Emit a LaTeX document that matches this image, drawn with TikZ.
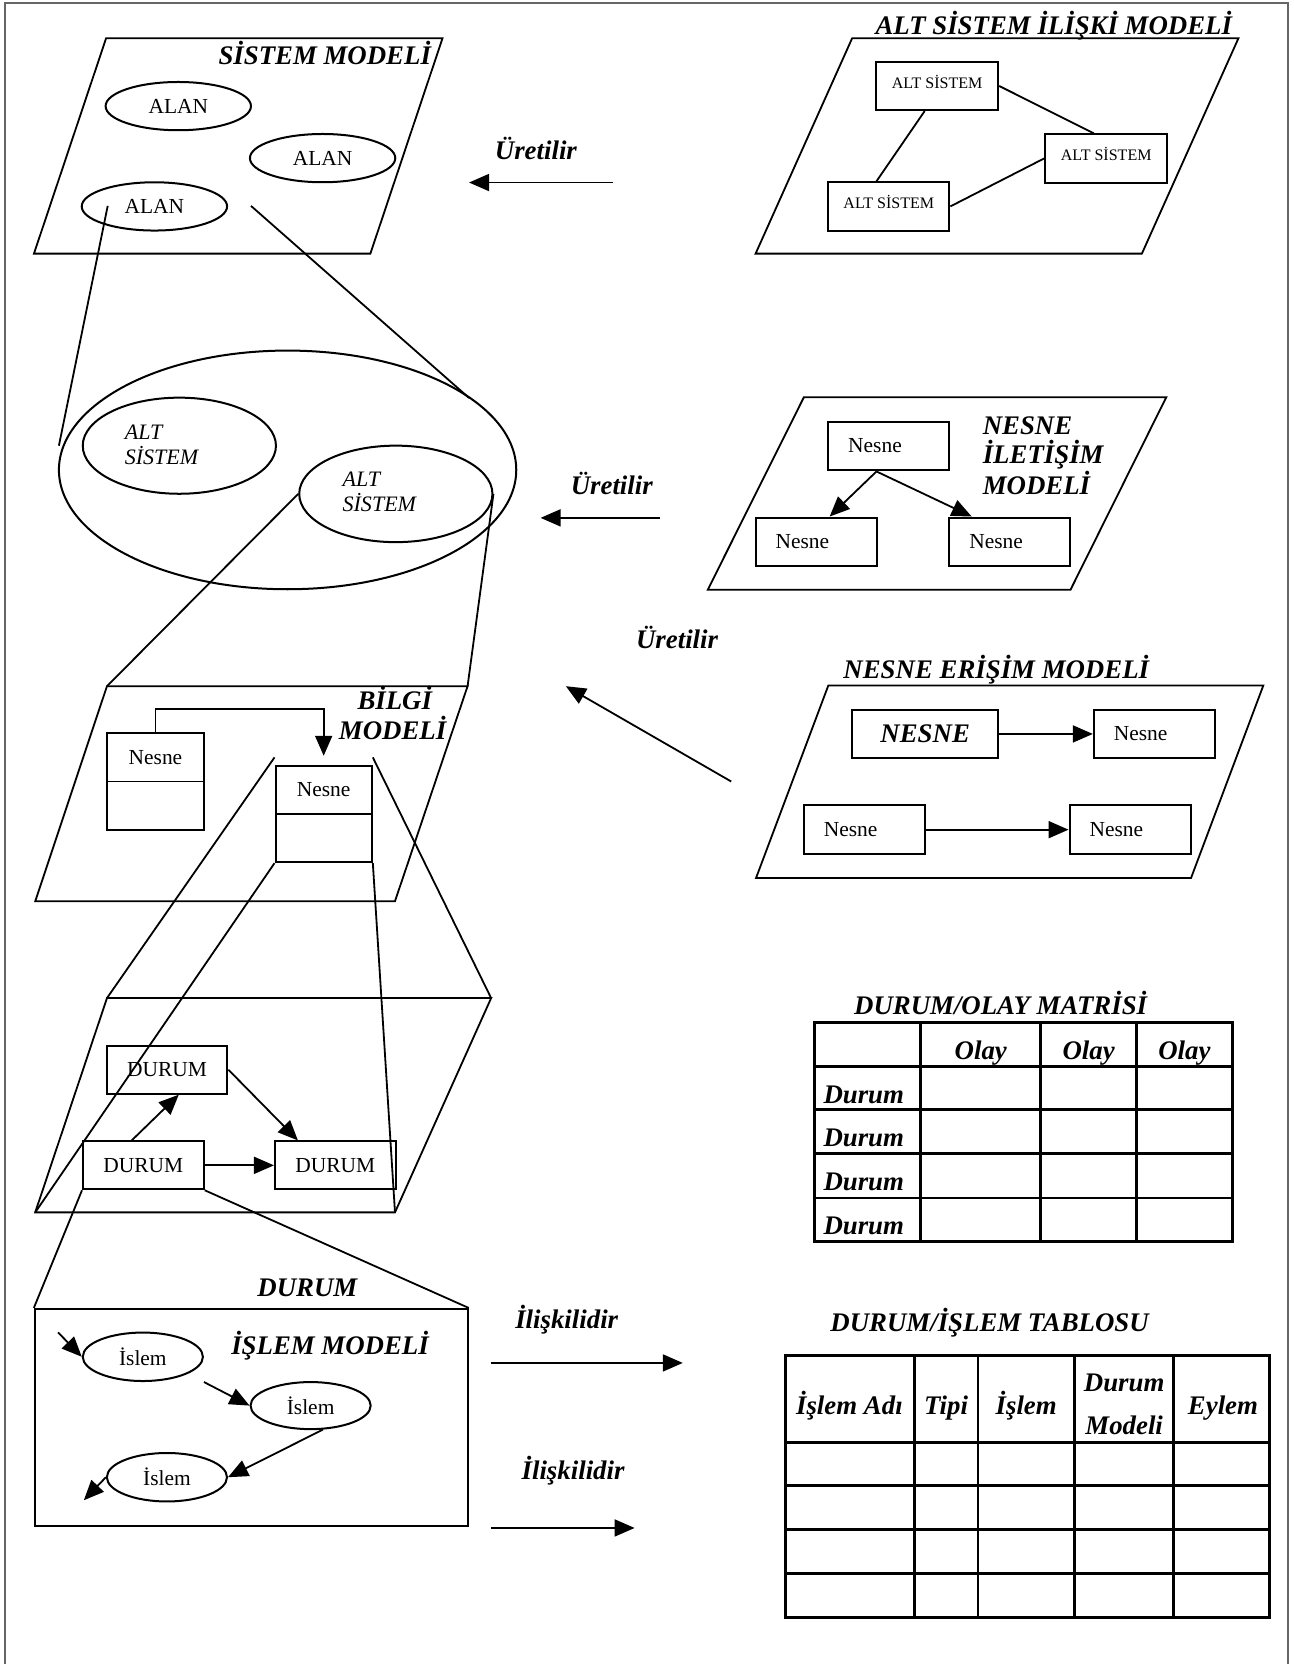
\documentclass[tikz,border=0pt]{standalone}
\usepackage{fontspec}
\setmainfont{Liberation Serif}
\usetikzlibrary{arrows.meta,shapes.geometric,calc}
\begin{document}
\begin{tikzpicture}[x=0.53pt,y=-0.53pt,
  ln/.style={line width=0.9pt},
  arr/.style={line width=0.9pt,-{Triangle[length=10pt,width=8.5pt]}},
  ttl/.style={font=\fontsize{13.4}{16}\selectfont\bfseries\itshape, inner sep=0pt},
  reg/.style={font=\fontsize{10.7}{13}\selectfont, inner sep=0pt},
  sml/.style={font=\fontsize{8}{10}\selectfont, text depth=4.2pt},
  bx/.style={draw, line width=1pt, rectangle, inner sep=0pt, reg},
  ov/.style={draw, line width=1pt, ellipse, inner sep=0pt, reg},
  nbx/.style={bx, text width=40.5pt, inner xsep=10pt, align=left, minimum height=24.4pt},
  itx/.style={font=\fontsize{11}{13}\selectfont\itshape, inner sep=0pt},
  tbl/.style={line width=1.4pt}
]
\useasboundingbox (0,0) rectangle (1219,1568);
\draw[black!60, line width=1pt] (4.7,1568) -- (4.7,2.8) -- (1213.4,2.8) -- (1213.4,1568);

% ---------- SISTEM MODELI
\draw[ln] (100,36) -- (417,36) -- (349,239) -- (32,239) -- cycle;
\node[ttl, anchor=base east] (tsm) at (406.5,61.2) {SİSTEM MODELİ};
\node[ov, minimum width=72.6pt, minimum height=24.1pt] (al1) at (168,100) {ALAN};
\node[ov, minimum width=72.6pt, minimum height=24.1pt] (al2) at (304,149) {ALAN};
\node[ov, minimum width=72.6pt, minimum height=24.1pt] (al3) at (145.5,194.5) {ALAN};

% ---------- Uretilir 1
\node[ttl, anchor=base] (u1) at (505,150) {Üretilir};
\coordinate (u1s) at (577.5,172);
\coordinate (u1e) at (442,172);
\draw[arr] (u1s) -- (u1e);

% ---------- ALT SISTEM ILISKI MODELI
\draw[ln] (803,36) -- (1167,36) -- (1076,239) -- (712,239) -- cycle;
\node[ttl, anchor=base] (tas) at (993,32.5) {ALT SİSTEM İLİŞKİ MODELİ};
\node[bx, sml, minimum width=61pt, minimum height=24.1pt] (as1) at (883,81) {ALT SİSTEM};
\node[bx, sml, minimum width=61pt, minimum height=24.1pt] (as2) at (1042.4,149.3) {ALT SİSTEM};
\node[bx, sml, minimum width=60.5pt, minimum height=24.1pt] (as3) at (837.5,194.5) {ALT SİSTEM};
\draw[ln] ($(as1.south west)!0.4!(as1.south east)$) -- ($(as3.north west)!0.4!(as3.north east)$);
\draw[ln] (as1.east) -- ($(as2.north west)!0.4!(as2.north east)$);
\draw[ln] (as2.west) -- (as3.east);

% ---------- big ellipse
\node[ov, minimum width=228.4pt, minimum height=119.2pt] (big) at (271,442.8) {};
\node[ov, minimum width=96.5pt, minimum height=48pt] (ae1) at (169,420) {};
\node[ov, minimum width=96.5pt, minimum height=48.2pt] (ae2) at (373,465.4) {};
\node[itx, anchor=base west] (ae1a) at (117.3,414.5) {ALT};
\node[itx, anchor=base west] (ae1b) at (117.3,438) {SİSTEM};
\node[itx, anchor=base west] (ae2a) at (322.5,458.5) {ALT};
\node[itx, anchor=base west] (ae2b) at (322.5,482) {SİSTEM};
\coordinate (za) at (101.5,194);
\coordinate (zb) at (55.5,420);
\coordinate (zc) at (236.5,194);
\coordinate (zd) at (442,375);
\draw[ln] (za) -- (zb);
\draw[ln] (zc) -- (zd);

% ---------- Uretilir 2
\node[ttl, anchor=base west] (u2) at (537.5,466) {Üretilir};
\coordinate (u2s) at (621.8,488);
\coordinate (u2e) at (509.4,488);
\draw[arr] (u2s) -- (u2e);

% ---------- NESNE ILETISIM MODELI
\draw[ln] (757.5,374.3) -- (1099,374.3) -- (1008.7,555.8) -- (666.9,555.8) -- cycle;
\node[ttl, anchor=base west] (ti1) at (925.7,409.8) {NESNE};
\node[ttl, anchor=base west] (ti2) at (925.7,436.5) {İLETİŞİM};
\node[ttl, anchor=base west] (ti3) at (925.7,465.7) {MODELİ};
\node[nbx] (nt) at (837.5,420.3) {Nesne};
\node[nbx] (nl) at (769,510.7) {Nesne};
\node[nbx] (nr) at (951.6,510.7) {Nesne};
\draw[arr] ($(nt.south west)!0.4!(nt.south east)$) -- ($(nl.north west)!0.61!(nl.north east)$);
\draw[arr] ($(nt.south west)!0.4!(nt.south east)$) -- ($(nr.north west)!0.19!(nr.north east)$);

% ---------- Uretilir 3
\node[ttl, anchor=base] (u3) at (638,611) {Üretilir};
\coordinate (u3s) at (689,736.4);
\coordinate (u3e) at (533.2,646.6);
\draw[arr] (u3s) -- (u3e);

% ---------- NESNE ERISIM MODELI
\draw[ln] (780.5,646) -- (1190.4,646) -- (1122.3,827.4) -- (712.4,827.4) -- cycle;
\node[ttl, anchor=base] (tne) at (938.8,639) {NESNE ERİŞİM MODELİ};
\node[bx, ttl, minimum width=72.8pt, minimum height=24.1pt] (ne1) at (871.8,691.6) {NESNE};
\node[nbx] (ne2) at (1087.8,691.6) {Nesne};
\node[nbx] (ne3) at (814.5,781.8) {Nesne};
\node[nbx] (ne4) at (1064.9,781.8) {Nesne};
\draw[arr] (ne1.east) -- (ne2.west);
\draw[arr] (ne3.east) -- (ne4.west);

% ---------- BILGI MODELI
\coordinate (b1) at (100.8,646.6);
\coordinate (b2) at (440.6,646.6);
\coordinate (b3) at (372.2,849.2);
\coordinate (b4) at (33.2,849.2);
\draw[ln] (b1) -- (b2) -- (b3) -- (b4) -- cycle;
\draw[ln] (ae2.west) -- (b1);
\draw[ln] (ae2.east) -- (b2);
\node[ttl, anchor=base] (tb1) at (372,668.2) {BİLGİ};
\node[ttl, anchor=base] (tb2) at (370,697) {MODELİ};
\node[bx, minimum width=48.4pt, minimum height=48.2pt] (c1) at (146.5,736.4) {};
\draw[ln] (c1.west) -- (c1.east);
\node[reg] (c1t) at (146.5,713.5) {Nesne};
\node[bx, minimum width=48.1pt, minimum height=48.1pt] (c2) at (305,767) {};
\draw[ln] (c2.west) -- (c2.east);
\node[reg] (c2t) at (305,744) {Nesne};
\draw[arr, shorten >=4.5pt] (c1.north) -- ++(0,-22) -| (c2.north);

% ---------- DURUM plane
\coordinate (p1) at (100.8,940.5);
\coordinate (p2) at (462.8,940.5);
\coordinate (p3) at (372.2,1142.4);
\coordinate (p4) at (33.2,1142.4);
\draw[ln] (p1) -- (p2) -- (p3) -- (p4) -- cycle;
\draw[ln] ($(c2.north west)+(0,-7)$) -- (p1);
\draw[ln] ($(c2.north east)+(0,-7)$) -- (p2);
\draw[ln] (c2.south west) -- (p4);
\draw[ln] (c2.south east) -- (p3);
\node[bx, minimum width=60.3pt, minimum height=23.9pt] (d1) at (157.4,1008) {DURUM};
\node[bx, minimum width=60.3pt, minimum height=23.9pt] (d2) at (135.1,1098.1) {DURUM};
\node[bx, minimum width=60.3pt, minimum height=23.9pt] (d3) at (316,1098.1) {DURUM};
\draw[arr] ($(d2.north west)!0.405!(d2.north east)$) -- ($(d1.south west)!0.596!(d1.south east)$);
\draw[arr] (d1.east) -- ($(d3.north west)!0.195!(d3.north east)$);
\draw[arr] (d2.east) -- (d3.west);

% ---------- ISLEM MODELI
\node[draw, line width=1pt, minimum width=216.2pt, minimum height=108.2pt, inner sep=0pt] (ib) at (236.8,1335.5) {};
\draw[ln] (d2.south west) -- (ib.north west);
\draw[ln] (d2.south east) -- (ib.north east);
\node[ttl, anchor=base] (tdur) at (289.6,1221.5) {DURUM};
\node[ttl, anchor=base] (tim) at (311,1276.5) {İŞLEM MODELİ};
\node[ov, minimum width=60pt, minimum height=24.2pt] (i1) at (134.6,1278.5) {İslem};
\node[ov, minimum width=60pt, minimum height=23.5pt] (i2) at (292.7,1324.5) {İslem};
\node[ov, minimum width=60pt, minimum height=24.2pt] (i3) at (157.3,1392) {İslem};
\coordinate (i0) at (54.7,1255.5);
\coordinate (i4) at (79,1413.7);
\draw[arr] (i0) -- (i1.west);
\draw[arr] (i1.east |- i1.south) -- (i2.west);
\draw[arr] (i2.-63) -- (i3.east);
\draw[arr] (i3.west) -- (i4);

% ---------- Iliskilidir
\node[ttl, anchor=base] (il1) at (534,1251.4) {İlişkilidir};
\coordinate (l1s) at (462.6,1284.3);
\coordinate (l1e) at (643.4,1284.3);
\draw[arr] (l1s) -- (l1e);
\node[ttl, anchor=base] (il2) at (540,1394.2) {İlişkilidir};
\coordinate (l2s) at (462.6,1439.8);
\coordinate (l2e) at (598,1439.8);
\draw[arr] (l2s) -- (l2e);

% ---------- DURUM/OLAY MATRISI
\node[ttl, anchor=base] (tdo) at (942.9,956.2) {DURUM/OLAY MATRİSİ};
\draw[tbl] (767.8,963.4) rectangle (1161.3,1169.8);
\foreach \x in {867.7,980.7,1070.8} \draw[tbl] (\x,963.4) -- (\x,1169.8);
\foreach \y in {1004.9,1045.7,1087.1,1128.9} \draw[tbl] (767.8,\y) -- (1161.3,\y);
\node[ttl, anchor=base] (o1) at (924.2,998.6) {Olay};
\node[ttl, anchor=base] (o2) at (1025.8,998.6) {Olay};
\node[ttl, anchor=base] (o3) at (1116,998.6) {Olay};
\node[ttl, anchor=base west] (r1) at (775.6,1040) {Durum};
\node[ttl, anchor=base west] (r2) at (775.6,1080.3) {Durum};
\node[ttl, anchor=base west] (r3) at (775.6,1121.7) {Durum};
\node[ttl, anchor=base west] (r4) at (775.6,1163.4) {Durum};

% ---------- DURUM/ISLEM TABLOSU
\node[ttl, anchor=base] (tdi) at (932.5,1254.5) {DURUM/İŞLEM TABLOSU};
\draw[tbl] (740.2,1277.4) rectangle (1196.5,1523.9);
\foreach \x in {861.5,921.5,1012.5,1106} \draw[tbl] (\x,1277.4) -- (\x,1523.9);
\foreach \y in {1359.1,1399.9,1441.4,1482.8} \draw[tbl] (740.2,\y) -- (1196.5,\y);
\node[ttl, anchor=base] (h1) at (800.4,1333) {İşlem Adı};
\node[ttl, anchor=base] (h2) at (891.5,1333) {Tipi};
\node[ttl, anchor=base] (h3) at (967,1333) {İşlem};
\node[ttl, anchor=base] (h4a) at (1059.3,1311) {Durum};
\node[ttl, anchor=base] (h4b) at (1059.3,1352) {Modeli};
\node[ttl, anchor=base] (h5) at (1152.4,1333) {Eylem};
\end{tikzpicture}
\end{document}
